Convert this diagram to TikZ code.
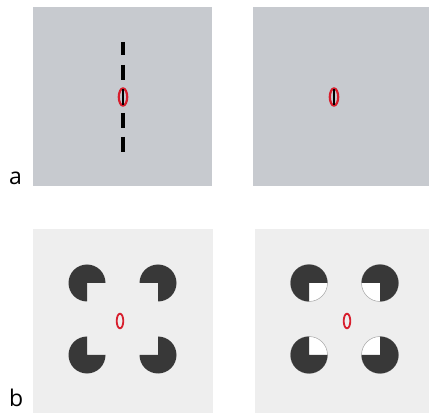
\documentclass[tikz,border=0pt]{standalone}
\usepackage{fontspec}
\setmainfont{Open Sans}
\definecolor{panelA}{RGB}{199,202,207}
\definecolor{panelB}{RGB}{238,238,238}
\definecolor{pac}{RGB}{56,56,56}
\definecolor{ringred}{RGB}{215,30,45}
\begin{document}
\begin{tikzpicture}[x=1pt,y=1pt,
  panelAbox/.style={fill=panelA,draw=none},
  panelBbox/.style={fill=panelB,draw=none},
  dashbar/.style={line width=3.5pt,black},
  redring/.style={draw=ringred,line width=2.2pt},
  redzero/.style={draw=ringred,line width=1.8pt},
  pacfill/.style={fill=pac,draw=none},
  inducer/.style={draw=gray!70,line width=0.5pt,fill=white},
  lbl/.style={font=\fontsize{23}{23}\selectfont,anchor=base west,inner sep=0pt}]
\useasboundingbox (0,0) rectangle (429,413);
\fill[white] (0,0) rectangle (429,413);
% panels
\fill[panelAbox] (33,227) rectangle (212,406);
\fill[panelAbox] (253,227) rectangle (429,406);
\fill[panelBbox] (33,0) rectangle (213,184);
\fill[panelBbox] (255,0) rectangle (429,184);
% labels
\node[lbl] (la) at (9,228) {a};
\node[lbl] (lb) at (9,6) {b};
% panel a left: dashed vertical line with red ring
\draw[dashbar] (123,371) -- (123,358);
\draw[dashbar] (123,348) -- (123,333);
\draw[dashbar] (123,300) -- (123,285);
\draw[dashbar] (123,276) -- (123,261);
\draw[redring] (123,316) ellipse [x radius=4.2pt, y radius=8.6pt];
\draw[line width=2.8pt] (123,324) -- (123,308);
% panel a right
\draw[redring] (334,316) ellipse [x radius=4.2pt, y radius=8.6pt];
\draw[line width=2.8pt] (334,324) -- (334,308);
% panel b left: pacmen
\fill[pacfill] (87,130) -- +(0:18.5pt) arc[start angle=0,end angle=270,radius=18.5pt] -- cycle;
\fill[pacfill] (158,130) -- +(270:18.5pt) arc[start angle=270,end angle=540,radius=18.5pt] -- cycle;
\fill[pacfill] (87,58) -- +(90:18.5pt) arc[start angle=90,end angle=360,radius=18.5pt] -- cycle;
\fill[pacfill] (158,58) -- +(180:18.5pt) arc[start angle=180,end angle=450,radius=18.5pt] -- cycle;
\draw[redzero] (120,92) ellipse [x radius=3.3pt, y radius=7.3pt];
% panel b right: outlined discs with white quadrants
\draw[inducer] (309,130) circle[radius=18.5pt];
\draw[inducer] (380,130) circle[radius=18.5pt];
\draw[inducer] (309,58) circle[radius=18.5pt];
\draw[inducer] (380,58) circle[radius=18.5pt];
\fill[pacfill] (309,130) -- +(0:18.5pt) arc[start angle=0,end angle=270,radius=18.5pt] -- cycle;
\fill[pacfill] (380,130) -- +(270:18.5pt) arc[start angle=270,end angle=540,radius=18.5pt] -- cycle;
\fill[pacfill] (309,58) -- +(90:18.5pt) arc[start angle=90,end angle=360,radius=18.5pt] -- cycle;
\fill[pacfill] (380,58) -- +(180:18.5pt) arc[start angle=180,end angle=450,radius=18.5pt] -- cycle;
\draw[redzero] (347,92) ellipse [x radius=3.3pt, y radius=7.3pt];
\end{tikzpicture}
\end{document}
